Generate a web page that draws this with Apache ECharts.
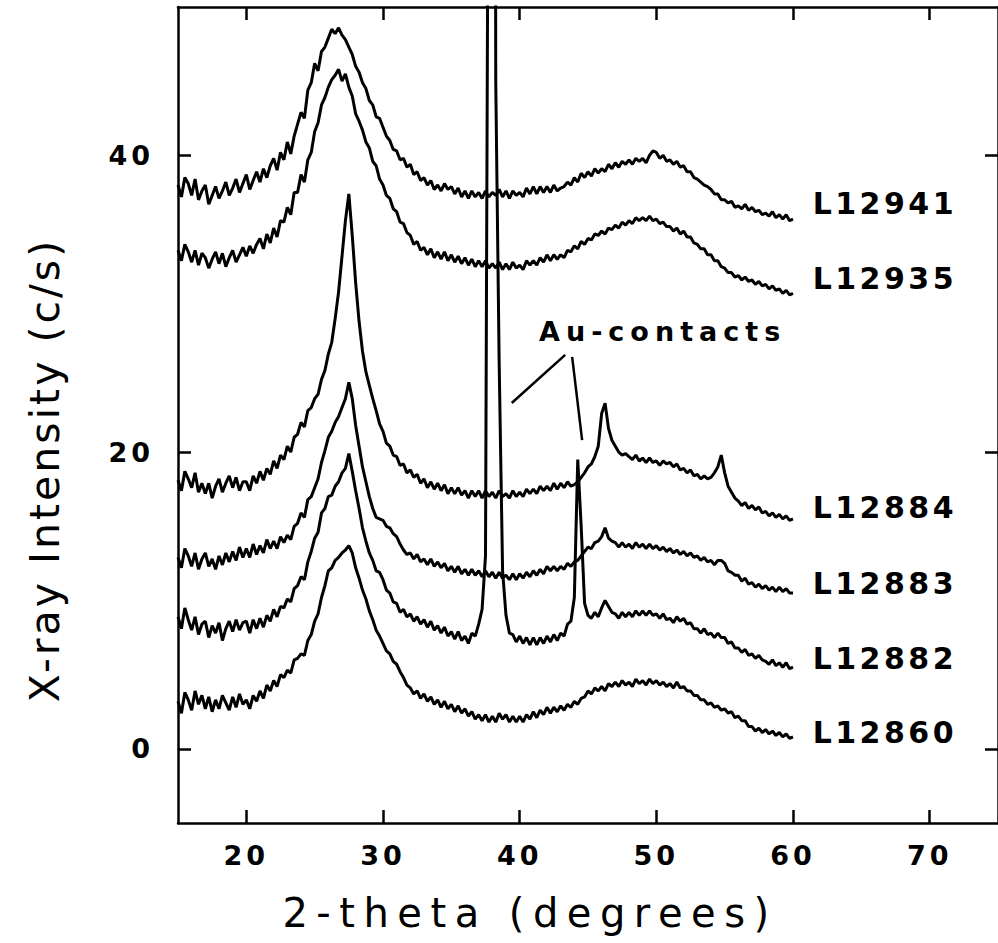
<!DOCTYPE html>
<html>
<head>
<meta charset="utf-8">
<script src="https://cdn.jsdelivr.net/npm/echarts@6/dist/echarts.min.js"></script>
<style>
html, body { margin: 0; padding: 0; background: #fff; }
#chart { width: 998px; height: 943px; }
text[style*="lsTick"], text[font-family*="lsTick"] { letter-spacing: 4px; }
text[style*="lsSer"], text[font-family*="lsSer"] { letter-spacing: 3.5px; }
text[style*="lsAu"], text[font-family*="lsAu"] { letter-spacing: 6px; }
text[style*="lsXt"], text[font-family*="lsXt"] { letter-spacing: 8.5px; }
text[style*="lsYt"], text[font-family*="lsYt"] { letter-spacing: 3px; }
</style>
</head>
<body>
<div id="chart"></div>
<script>
// sampling grid of the scans (2-theta, degrees)
const THETA_START = 15;
const THETA_STEP = 0.25;

const SAMPLE_NAMES = ['L12941', 'L12935', 'L12884', 'L12883', 'L12882', 'L12860'];

// X-ray intensity (c/s), one value per 0.25 degree from 15 to 60
const L12941 = [
 38.0,37.2,38.5,38.1, 37.3,38.4,37.0,37.6, 38.0,36.7,37.3,37.9, 37.1,37.6,38.2,37.3, 37.8,38.4,37.5,38.1,
 38.7,37.7,38.3,38.9, 38.2,39.1,38.5,39.3, 39.8,39.0,40.2,39.7, 40.9,40.1,41.3,42.1, 42.9,42.5,44.4,44.9,
 46.2,45.7,47.0,47.3, 47.9,48.5,48.2,48.6, 48.1,47.8,47.3,46.8, 46.0,45.6,44.9,44.5, 43.7,43.4,42.6,42.5,
 41.9,41.3,41.0,40.4, 40.3,39.7,39.8,39.2, 39.4,38.7,38.9,38.3, 38.5,38.0,38.3,37.7, 38.0,37.6,38.1,37.7,
 37.9,37.4,37.8,37.2, 37.6,37.1,37.6,37.2, 37.5,37.1,37.6,37.2, 37.5,37.3,37.7,37.2, 37.6,37.1,37.6,37.3,
 37.5,37.2,37.8,37.4, 37.9,37.4,37.9,37.5, 37.9,37.5,38.0,37.6, 37.8,37.9,38.2,38.0, 38.5,38.2,38.8,38.5,
 38.9,38.6,39.1,38.8, 39.1,38.9,39.4,39.1, 39.5,39.2,39.6,39.4, 39.7,39.4,39.8,39.6, 39.8,39.5,40.0,40.3,
 40.2,39.8,40.0,39.6, 39.7,39.4,39.6,39.2, 39.3,38.9,38.9,38.5, 38.4,38.2,38.0,37.9, 37.7,37.4,37.4,37.0,
 37.0,36.8,36.9,36.5, 36.6,36.4,36.7,36.3, 36.5,36.2,36.3,36.0, 36.1,35.9,36.2,35.8, 36.0,35.7,36.0,35.6,
 35.7
];
const L12935 = [
 33.6,32.9,34.0,33.5, 32.8,33.6,32.6,33.4, 33.1,32.4,33.0,33.5, 32.7,33.4,32.5,33.1, 33.6,32.8,33.3,33.8,
 33.2,33.9,33.4,34.0, 34.4,33.7,34.7,34.1, 35.1,34.5,35.6,35.5, 36.5,36.0,37.5,37.5, 38.7,38.2,39.7,40.2,
 41.6,42.2,43.4,43.9, 44.6,45.1,45.4,45.8, 45.0,45.5,44.6,44.0, 42.8,42.3,41.7,40.9, 40.5,39.6,39.3,38.4,
 38.0,37.3,37.1,36.4, 36.2,35.5,35.4,34.8, 34.6,34.0,34.2,33.6, 33.8,33.3,33.7,33.1, 33.5,33.0,33.5,32.9,
 33.3,32.8,33.2,32.7, 33.1,32.6,33.0,32.5, 32.9,32.5,32.9,32.4, 32.7,32.4,32.8,32.3, 32.7,32.3,32.8,32.4,
 32.6,32.3,32.9,32.6, 32.9,32.6,33.1,32.8, 33.3,32.9,33.3,33.0, 33.3,33.1,33.6,33.5, 33.9,33.7,34.2,34.0,
 34.4,34.3,34.7,34.6, 34.9,34.7,35.1,35.0, 35.3,35.1,35.5,35.3, 35.6,35.4,35.8,35.6, 35.8,35.6,35.9,35.6,
 35.7,35.4,35.5,35.2, 35.2,34.9,35.1,34.7, 34.9,34.5,34.5,34.1, 34.0,33.7,33.7,33.3, 33.3,32.9,32.9,32.5,
 32.4,32.1,32.1,31.8, 31.9,31.6,31.8,31.5, 31.6,31.3,31.5,31.2, 31.3,31.0,31.2,30.9, 31.0,30.7,30.9,30.6,
 30.7
];
const L12884 = [
 18.1,17.4,18.7,18.2, 17.6,18.6,17.3,17.9, 17.2,17.9,16.9,17.7, 18.2,17.3,17.9,18.4, 17.6,18.3,17.4,18.0,
 18.0,17.4,18.4,17.9, 18.7,18.1,18.9,18.5, 19.4,18.9,19.8,19.5, 20.4,20.0,21.0,21.2, 22.0,21.7,22.8,23.0,
 23.6,23.9,24.9,25.5, 26.6,27.4,29.0,30.8, 33.2,35.6,37.4,34.6, 31.4,28.8,26.8,25.4, 24.5,23.6,22.8,21.9,
 21.4,20.6,20.4,19.8, 19.7,19.1,19.2,18.6, 18.8,18.3,18.5,17.9, 18.2,17.6,18.0,17.5, 17.9,17.4,17.8,17.2,
 17.6,17.2,17.6,17.1, 17.4,16.9,17.4,17.0, 17.4,16.9,17.4,17.0, 17.3,16.9,17.4,17.0, 17.2,16.9,17.4,17.0,
 17.3,17.0,17.5,17.2, 17.5,17.2,17.7,17.4, 17.7,17.4,17.9,17.5, 17.9,17.6,18.0,17.7, 17.8,18.0,18.3,18.6,
 19.0,19.2,19.7,20.4, 22.6,23.3,21.6,20.8, 20.4,20.0,19.8,19.9, 19.7,19.5,19.8,19.4, 19.6,19.3,19.6,19.3,
 19.4,19.1,19.4,19.2, 19.3,19.0,19.2,18.8, 18.9,18.6,18.8,18.4, 18.5,18.2,18.4,18.2, 18.3,18.6,19.0,19.8,
 18.6,17.7,17.3,16.9, 16.7,16.4,16.6,16.2, 16.4,16.1,16.3,15.9, 16.0,15.7,15.9,15.6, 15.8,15.5,15.7,15.4,
 15.5
];
const L12883 = [
 12.9,12.2,13.5,13.0, 12.3,13.2,12.1,12.8, 13.2,12.3,12.8,12.1, 13.0,12.4,13.2,12.6, 13.3,12.7,13.6,12.9,
 13.5,12.9,13.8,13.1, 13.7,13.2,14.1,13.5, 14.0,13.5,14.3,13.9, 14.4,14.1,15.0,15.2, 15.9,15.6,16.8,17.0,
 17.6,18.2,19.3,20.1, 21.0,21.4,22.0,22.4, 23.0,23.6,24.7,23.6, 21.8,20.4,19.0,18.0, 17.0,16.2,15.6,15.5,
 15.4,15.0,14.9,14.5, 14.3,13.8,13.4,13.1, 13.2,12.8,13.1,12.6, 12.8,12.4,12.8,12.3, 12.6,12.2,12.5,12.0,
 12.3,11.9,12.3,11.8, 12.1,11.7,12.1,11.7, 12.0,11.6,12.0,11.6, 11.9,11.5,11.9,11.5, 11.7,11.4,11.8,11.4,
 11.8,11.5,11.9,11.6, 12.0,11.7,12.1,11.8, 12.3,12.0,12.3,12.0, 12.3,12.1,12.5,12.3, 12.6,12.7,13.0,13.3,
 13.6,13.5,13.9,14.0, 14.3,14.9,14.2,14.0, 13.9,13.6,13.9,13.6, 13.8,13.5,13.9,13.6, 13.8,13.5,13.8,13.5,
 13.7,13.4,13.6,13.3, 13.5,13.2,13.4,13.1, 13.3,13.0,13.2,12.9, 13.0,12.7,12.9,12.6, 12.7,12.4,12.7,12.7,
 12.5,12.0,11.9,11.7, 11.7,11.3,11.5,11.1, 11.2,10.9,11.1,10.8, 11.0,10.7,10.9,10.6, 10.9,10.6,10.8,10.5,
 10.5
];
const L12882 = [
 8.9,8.1,9.5,8.7, 8.0,8.9,7.7,8.4, 8.6,7.5,8.3,7.8, 8.5,7.3,8.1,8.6, 7.9,8.7,8.0,8.5,
 8.6,7.8,8.7,8.1, 8.8,8.2,9.0,8.6, 9.4,8.9,9.6,9.5, 10.1,9.9,10.8,11.0, 11.6,11.4,12.6,13.3,
 14.2,14.6,15.9,16.2, 17.0,17.1,17.7,18.0, 18.6,18.9,19.9,18.7, 17.4,16.2,14.9,14.0, 13.2,12.7,12.0,11.9,
 11.4,10.7,10.5,9.9, 9.8,9.2,9.4,8.9, 9.1,8.6,8.9,8.4, 8.7,8.2,8.6,8.0, 8.3,7.8,8.2,7.6,
 7.9,7.4,7.9,7.3, 7.6,7.1,7.8,7.6, 8.4,9.4,13.0,75.0, 200.0,45.0,26.0,12.0, 9.0,7.8,7.7,7.2,
 7.6,7.1,7.5,7.0, 7.5,7.0,7.5,7.1, 7.6,7.2,7.7,7.3, 7.8,7.6,8.4,8.6, 10.2,19.5,15.0,9.8,
 9.0,8.8,9.2,8.9, 9.5,10.0,9.6,9.2, 9.1,8.8,9.2,8.9, 9.2,8.9,9.3,9.0, 9.3,9.0,9.3,9.0,
 9.1,8.8,9.1,8.7, 8.8,8.5,8.9,8.6, 8.8,8.4,8.5,8.1, 8.1,7.8,8.1,7.7, 7.8,7.5,7.8,7.5,
 7.5,7.1,7.2,6.8, 6.8,6.5,6.7,6.3, 6.4,6.1,6.3,6.0, 5.9,5.7,6.0,5.6, 5.8,5.5,5.8,5.4,
 5.5
];
const L12860 = [
 3.2,2.4,3.8,3.3, 2.6,3.9,3.0,3.6, 2.7,3.5,2.5,3.3, 2.7,3.6,3.1,2.6, 3.5,2.8,3.7,3.0,
 3.3,2.7,3.6,3.2, 3.9,3.4,4.3,3.9, 4.6,4.2,5.0,4.8, 5.3,5.1,6.0,6.1, 6.4,6.3,7.3,7.7,
 8.6,9.1,10.2,11.0, 12.0,12.2,12.7,12.9, 13.2,13.4,13.7,13.2, 12.2,11.5,10.7,10.1, 9.3,8.7,8.0,7.6,
 7.1,6.6,6.4,5.9, 5.7,5.2,4.8,4.3, 4.1,3.7,3.9,3.4, 3.7,3.2,3.5,3.0, 3.3,2.8,3.2,2.7,
 3.0,2.5,2.9,2.4, 2.7,2.2,2.5,2.0, 2.3,1.9,2.3,1.8, 2.2,1.8,2.4,2.0, 2.3,1.8,2.2,1.8,
 2.2,1.8,2.3,2.0, 2.5,2.1,2.6,2.3, 2.8,2.4,2.8,2.5, 2.9,2.6,3.0,2.8, 3.2,3.0,3.4,3.5,
 3.9,3.7,4.1,3.9, 4.2,3.9,4.4,4.2, 4.5,4.2,4.6,4.3, 4.5,4.2,4.7,4.4, 4.6,4.3,4.7,4.4,
 4.6,4.3,4.5,4.2, 4.4,4.1,4.5,4.1, 4.2,3.9,3.9,3.6, 3.6,3.3,3.3,3.0, 3.1,2.8,2.9,2.6,
 2.7,2.4,2.5,2.1, 2.2,1.9,1.9,1.5, 1.5,1.2,1.4,1.1, 1.3,1.0,1.2,0.9, 1.1,0.8,1.0,0.7,
 0.8
];
const SERIES_VALUES = [L12941, L12935, L12884, L12883, L12882, L12860];

const X_TICKS = [20, 30, 40, 50, 60, 70];
const Y_TICKS = [0, 20, 40];

// annotation anchors (data coordinates)
const LABEL_ANCHORS = [[61.4, 36.76], [61.4, 31.69], [61.4, 16.28], [61.4, 11.15], [61.4, 6.08], [61.4, 1.08]];
const AU_TEXT = 'Au-contacts';
const AU_TEXT_ANCHOR = [41.38, 28.1];
const AU_LEADERS = [[[39.42, 23.31], [43.33, 26.55]], [[43.84, 26.42], [44.57, 20.81]]];

const X_TITLE = '2-theta (degrees)';
const Y_TITLE = 'X-ray Intensity (c/s)';

const chart = echarts.init(document.getElementById('chart'), null, { renderer: 'svg' });
const toPairs = vals => vals.map((v, i) => [THETA_START + i * THETA_STEP, v]);

const axisLineStyle = { color: '#000', width: 2.5 };
function xAx(pos, showLabel) {
  return {
    type: 'value', min: 15, max: 75, position: pos,
    axisLine: { show: true, onZero: false, lineStyle: axisLineStyle },
    axisTick: { show: true, inside: true, length: 13, customValues: X_TICKS, lineStyle: axisLineStyle },
    axisLabel: { show: showLabel, customValues: X_TICKS, margin: 19, color: '#000', fontSize: 27, fontWeight: 'bold', fontFamily: "'DejaVu Sans', lsTick" },
    splitLine: { show: false }
  };
}
function yAx(pos, showLabel) {
  return {
    type: 'value', min: -5, max: 50, position: pos,
    axisLine: { show: true, onZero: false, lineStyle: axisLineStyle },
    axisTick: { show: true, inside: true, length: 13, customValues: Y_TICKS, lineStyle: axisLineStyle },
    axisLabel: { show: showLabel, customValues: Y_TICKS, margin: 24, color: '#000', fontSize: 27, fontWeight: 'bold', fontFamily: "'DejaVu Sans', lsTick" },
    splitLine: { show: false }
  };
}

const series = SAMPLE_NAMES.map((name, k) => {
  const s = {
    type: 'line', name: name, data: toPairs(SERIES_VALUES[k]),
    xAxisIndex: 0, yAxisIndex: 0,
    showSymbol: false, symbol: 'none', clip: true, silent: true,
    lineStyle: { color: '#000', width: 3 },
    markPoint: {
      symbol: 'circle', symbolSize: 1, silent: true, animation: false,
      itemStyle: { color: 'rgba(0,0,0,0)' },
      label: { show: true, position: 'right', distance: 0, formatter: '{b}', color: '#000', fontSize: 30, fontWeight: 'bold', fontFamily: "'DejaVu Sans', lsSer" },
      data: [{ name: name, coord: LABEL_ANCHORS[k] }]
    }
  };
  if (name === 'L12882') {
    s.markPoint.data.push({
      name: AU_TEXT, coord: AU_TEXT_ANCHOR,
      label: { show: true, position: 'right', distance: 0, formatter: '{b}', color: '#000', fontSize: 27, fontWeight: 'bold', fontFamily: "'DejaVu Sans', lsAu" }
    });
    s.markLine = {
      symbol: ['none', 'none'], silent: true, animation: false,
      label: { show: false },
      lineStyle: { color: '#000', width: 2.5, type: 'solid' },
      data: AU_LEADERS.map(seg => [{ coord: seg[0] }, { coord: seg[1] }])
    };
  }
  return s;
});

chart.setOption({
  animation: false,
  backgroundColor: '#fff',
  grid: { left: 178, right: -7, top: 7, bottom: 120, containLabel: false },
  xAxis: [xAx('bottom', true), xAx('top', false)],
  yAxis: [yAx('left', true), yAx('right', false)],
  graphic: [
    { type: 'text', x: 530, y: 913, silent: true,
      style: { text: X_TITLE, fill: '#000', font: "40px 'DejaVu Sans', lsXt", align: 'center', verticalAlign: 'middle', textAlign: 'center', textVerticalAlign: 'middle' } },
    { type: 'text', x: 45, y: 470, rotation: Math.PI / 2, silent: true,
      style: { text: Y_TITLE, fill: '#000', font: "41px 'DejaVu Sans', lsYt", align: 'center', verticalAlign: 'middle', textAlign: 'center', textVerticalAlign: 'middle' } }
  ],
  series: series
});
</script>
</body>
</html>
